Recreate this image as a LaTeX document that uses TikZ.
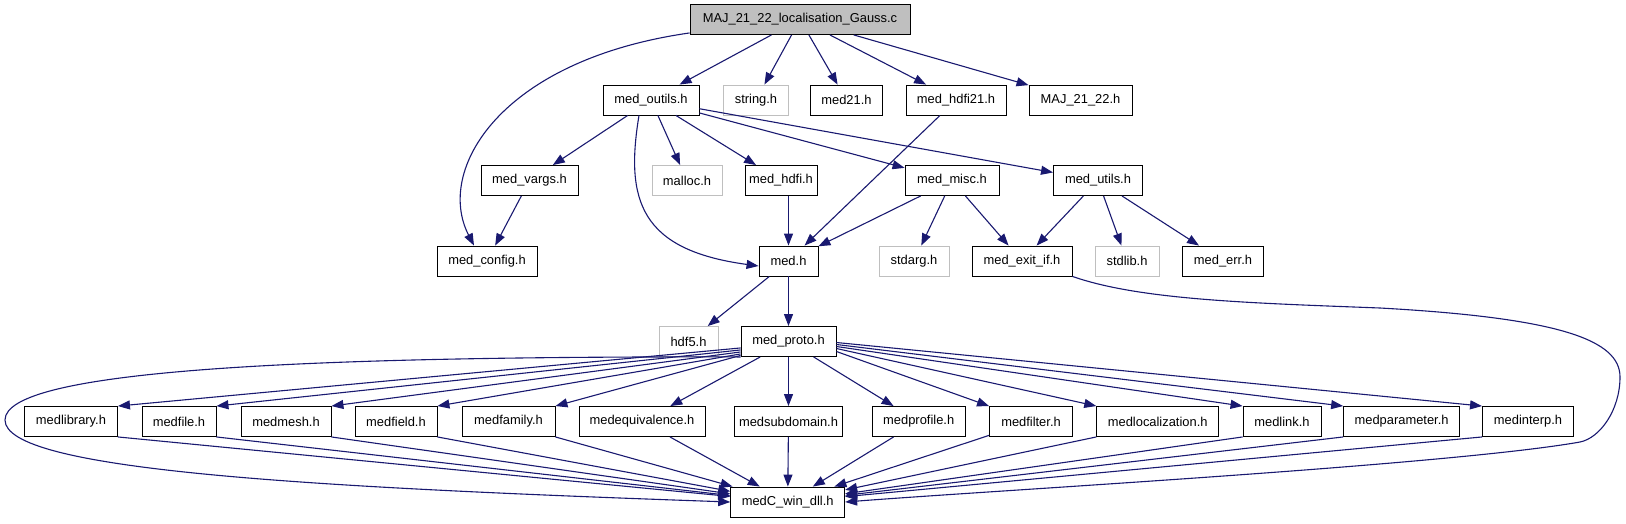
\documentclass[tikz,border=0pt]{standalone}
\usepackage{fontspec}
\setmainfont{Liberation Sans}
\usetikzlibrary{arrows.meta}
\definecolor{edgeblue}{HTML}{191970}
\definecolor{greyline}{HTML}{BFBFBF}

\begin{document}
\begin{tikzpicture}[
    x=1pt, y=-1pt,
    box/.style={
        rectangle, draw=black, fill=white, line width=0.9pt,
        minimum height=30pt, inner xsep=2pt,
        text centered, font=\fontsize{12.9}{15}\selectfont
    },
    sysbox/.style={box, draw=greyline},
    mainbox/.style={box, fill=greyline},
    arrow/.style={-{Triangle[length=12pt, width=9pt]}, line width=1.1pt, edgeblue}
]
    \useasboundingbox (0,0) rectangle (1626,523);

    \node[mainbox, minimum width=220pt] (gauss) at (800,19.5) {MAJ\_21\_22\_localisation\_Gauss.c};

    \node[box, minimum width=96pt] (outils) at (651,100) {med\_outils.h};
    \node[sysbox, minimum width=65pt] (string) at (756,100) {string.h};
    \node[box, minimum width=72pt] (med21) at (846.5,100) {med21.h};
    \node[box, minimum width=100pt] (hdfi21) at (956,100) {med\_hdfi21.h};
    \node[box, minimum width=103pt] (maj) at (1080.5,100) {MAJ\_21\_22.h};

    \node[box, minimum width=97pt] (vargs) at (529.5,180.5) {med\_vargs.h};
    \node[sysbox, minimum width=70pt] (malloc) at (687,180.5) {malloc.h};
    \node[box, minimum width=72pt] (hdfi) at (781,180.5) {med\_hdfi.h};
    \node[box, minimum width=94pt] (misc) at (952,180.5) {med\_misc.h};
    \node[box, minimum width=89pt] (utils) at (1098,180.5) {med\_utils.h};

    \node[box, minimum width=100pt] (config) at (487,261) {med\_config.h};
    \node[box, minimum width=59pt] (med) at (788.5,261) {med.h};
    \node[sysbox, minimum width=70pt] (stdarg) at (914,261) {stdarg.h};
    \node[box, minimum width=100pt] (exitif) at (1022,261) {med\_exit\_if.h};
    \node[sysbox, minimum width=64pt] (stdlib) at (1127,261) {stdlib.h};
    \node[box, minimum width=81pt] (err) at (1223,261) {med\_err.h};

    \node[sysbox, minimum width=59pt] (hdf5) at (688.5,341.5) {hdf5.h};
    \node[box, minimum width=95pt] (proto) at (788.5,341.5) {med\_proto.h};

    \node[box, minimum width=93pt] (library) at (71,421.5) {medlibrary.h};
    \node[box, minimum width=74pt] (file) at (179,421.5) {medfile.h};
    \node[box, minimum width=90pt] (mesh) at (286,421.5) {medmesh.h};
    \node[box, minimum width=82pt] (field) at (396,421.5) {medfield.h};
    \node[box, minimum width=93pt] (family) at (508.5,421.5) {medfamily.h};
    \node[box, minimum width=126pt] (equivalence) at (642,421.5) {medequivalence.h};
    \node[box, minimum width=108pt] (subdomain) at (788.5,421.5) {medsubdomain.h};
    \node[box, minimum width=93pt] (profile) at (918.7,421.5) {medprofile.h};
    \node[box, minimum width=83pt] (filter) at (1031,421.5) {medfilter.h};
    \node[box, minimum width=122pt] (localization) at (1157.7,421.5) {medlocalization.h};
    \node[box, minimum width=78pt] (link) at (1282,421.5) {medlink.h};
    \node[box, minimum width=116pt] (parameter) at (1401.6,421.5) {medparameter.h};
    \node[box, minimum width=91pt] (interp) at (1528,421.5) {medinterp.h};

    \node[box, minimum width=114pt] (dll) at (787.7,502) {medC\_win\_dll.h};

    \draw[arrow] ([yshift=2pt]gauss.south west) .. controls (500,60) and (435,170) .. ([xshift=-13pt]config.north);
    \draw[arrow] (gauss) -- (outils);
    \draw[arrow] (gauss) -- (string);
    \draw[arrow] (gauss) -- (med21);
    \draw[arrow] (gauss) -- (hdfi21);
    \draw[arrow] (gauss) -- (maj);

    \draw[arrow] (outils) -- (vargs);
    \draw[arrow] ([xshift=-12pt]outils.south) .. controls (625,200) and (640,250) .. ([yshift=-5pt]med.west);
    \draw[arrow] (outils) -- (malloc);
    \draw[arrow] (outils) -- (hdfi);
    \draw[arrow] (outils) -- (misc);
    \draw[arrow] (outils) -- (utils);
    \draw[arrow] (hdfi21) -- (med);

    \draw[arrow] (vargs) -- (config);
    \draw[arrow] (hdfi.south -| med.north) -- (med.north);
    \draw[arrow] (misc) -- (med);
    \draw[arrow] (misc) -- (stdarg);
    \draw[arrow] (misc) -- (exitif);
    \draw[arrow] (utils) -- (exitif);
    \draw[arrow] (utils) -- (stdlib);
    \draw[arrow] (utils) -- (err);

    \draw[arrow] (med) -- (hdf5);
    \draw[arrow] (med) -- (proto);
    \draw[arrow] (exitif.south east) .. controls (1140,300) and (1250,303) .. (1380,308)
        .. controls (1560,318) and (1620,340) .. (1620,377)
        .. controls (1620,410) and (1600,438) .. (1580,442)
        .. controls (1450,465) and (1000,490) .. (dll.east);

    \draw[arrow] (proto.south west) .. controls (300,356) and (5,370) .. (5,420)
        .. controls (5,470) and (300,487) .. (dll.west);
    \draw[arrow] ([yshift=9pt]proto.south west) -- (library.north east);
    \draw[arrow] ([yshift=7pt]proto.south west) -- (file.north east);
    \draw[arrow] ([yshift=5pt]proto.south west) -- (mesh.north east);
    \draw[arrow] ([yshift=3pt]proto.south west) -- (field.north east);
    \draw[arrow] ([yshift=1.5pt]proto.south west) -- (family.north east);
    \draw[arrow] (proto) -- (equivalence);
    \draw[arrow] (proto) -- (subdomain);
    \draw[arrow] (proto) -- (profile);
    \draw[arrow] ([yshift=-10pt]proto.east) -- (filter.north west);
    \draw[arrow] ([yshift=-7pt]proto.east) -- (localization.north west);
    \draw[arrow] ([yshift=-5pt]proto.east) -- (link.north west);
    \draw[arrow] ([yshift=-3pt]proto.east) -- (parameter.north west);
    \draw[arrow] ([yshift=-1pt]proto.east) -- (interp.north west);

    \draw[arrow] (library.south east) -- (dll);
    \draw[arrow] (file.south east) -- (dll);
    \draw[arrow] (mesh.south east) -- (dll);
    \draw[arrow] (field.south east) -- (dll);
    \draw[arrow] (family.south east) -- (dll);
    \draw[arrow] (equivalence) -- (dll);
    \draw[arrow] (subdomain) -- (dll);
    \draw[arrow] (profile) -- (dll);
    \draw[arrow] (filter) -- (dll);
    \draw[arrow] (localization.south west) -- (dll);
    \draw[arrow] (link.south west) -- (dll);
    \draw[arrow] (parameter.south west) -- (dll);
    \draw[arrow] (interp.south west) -- (dll);
\end{tikzpicture}
\end{document}
